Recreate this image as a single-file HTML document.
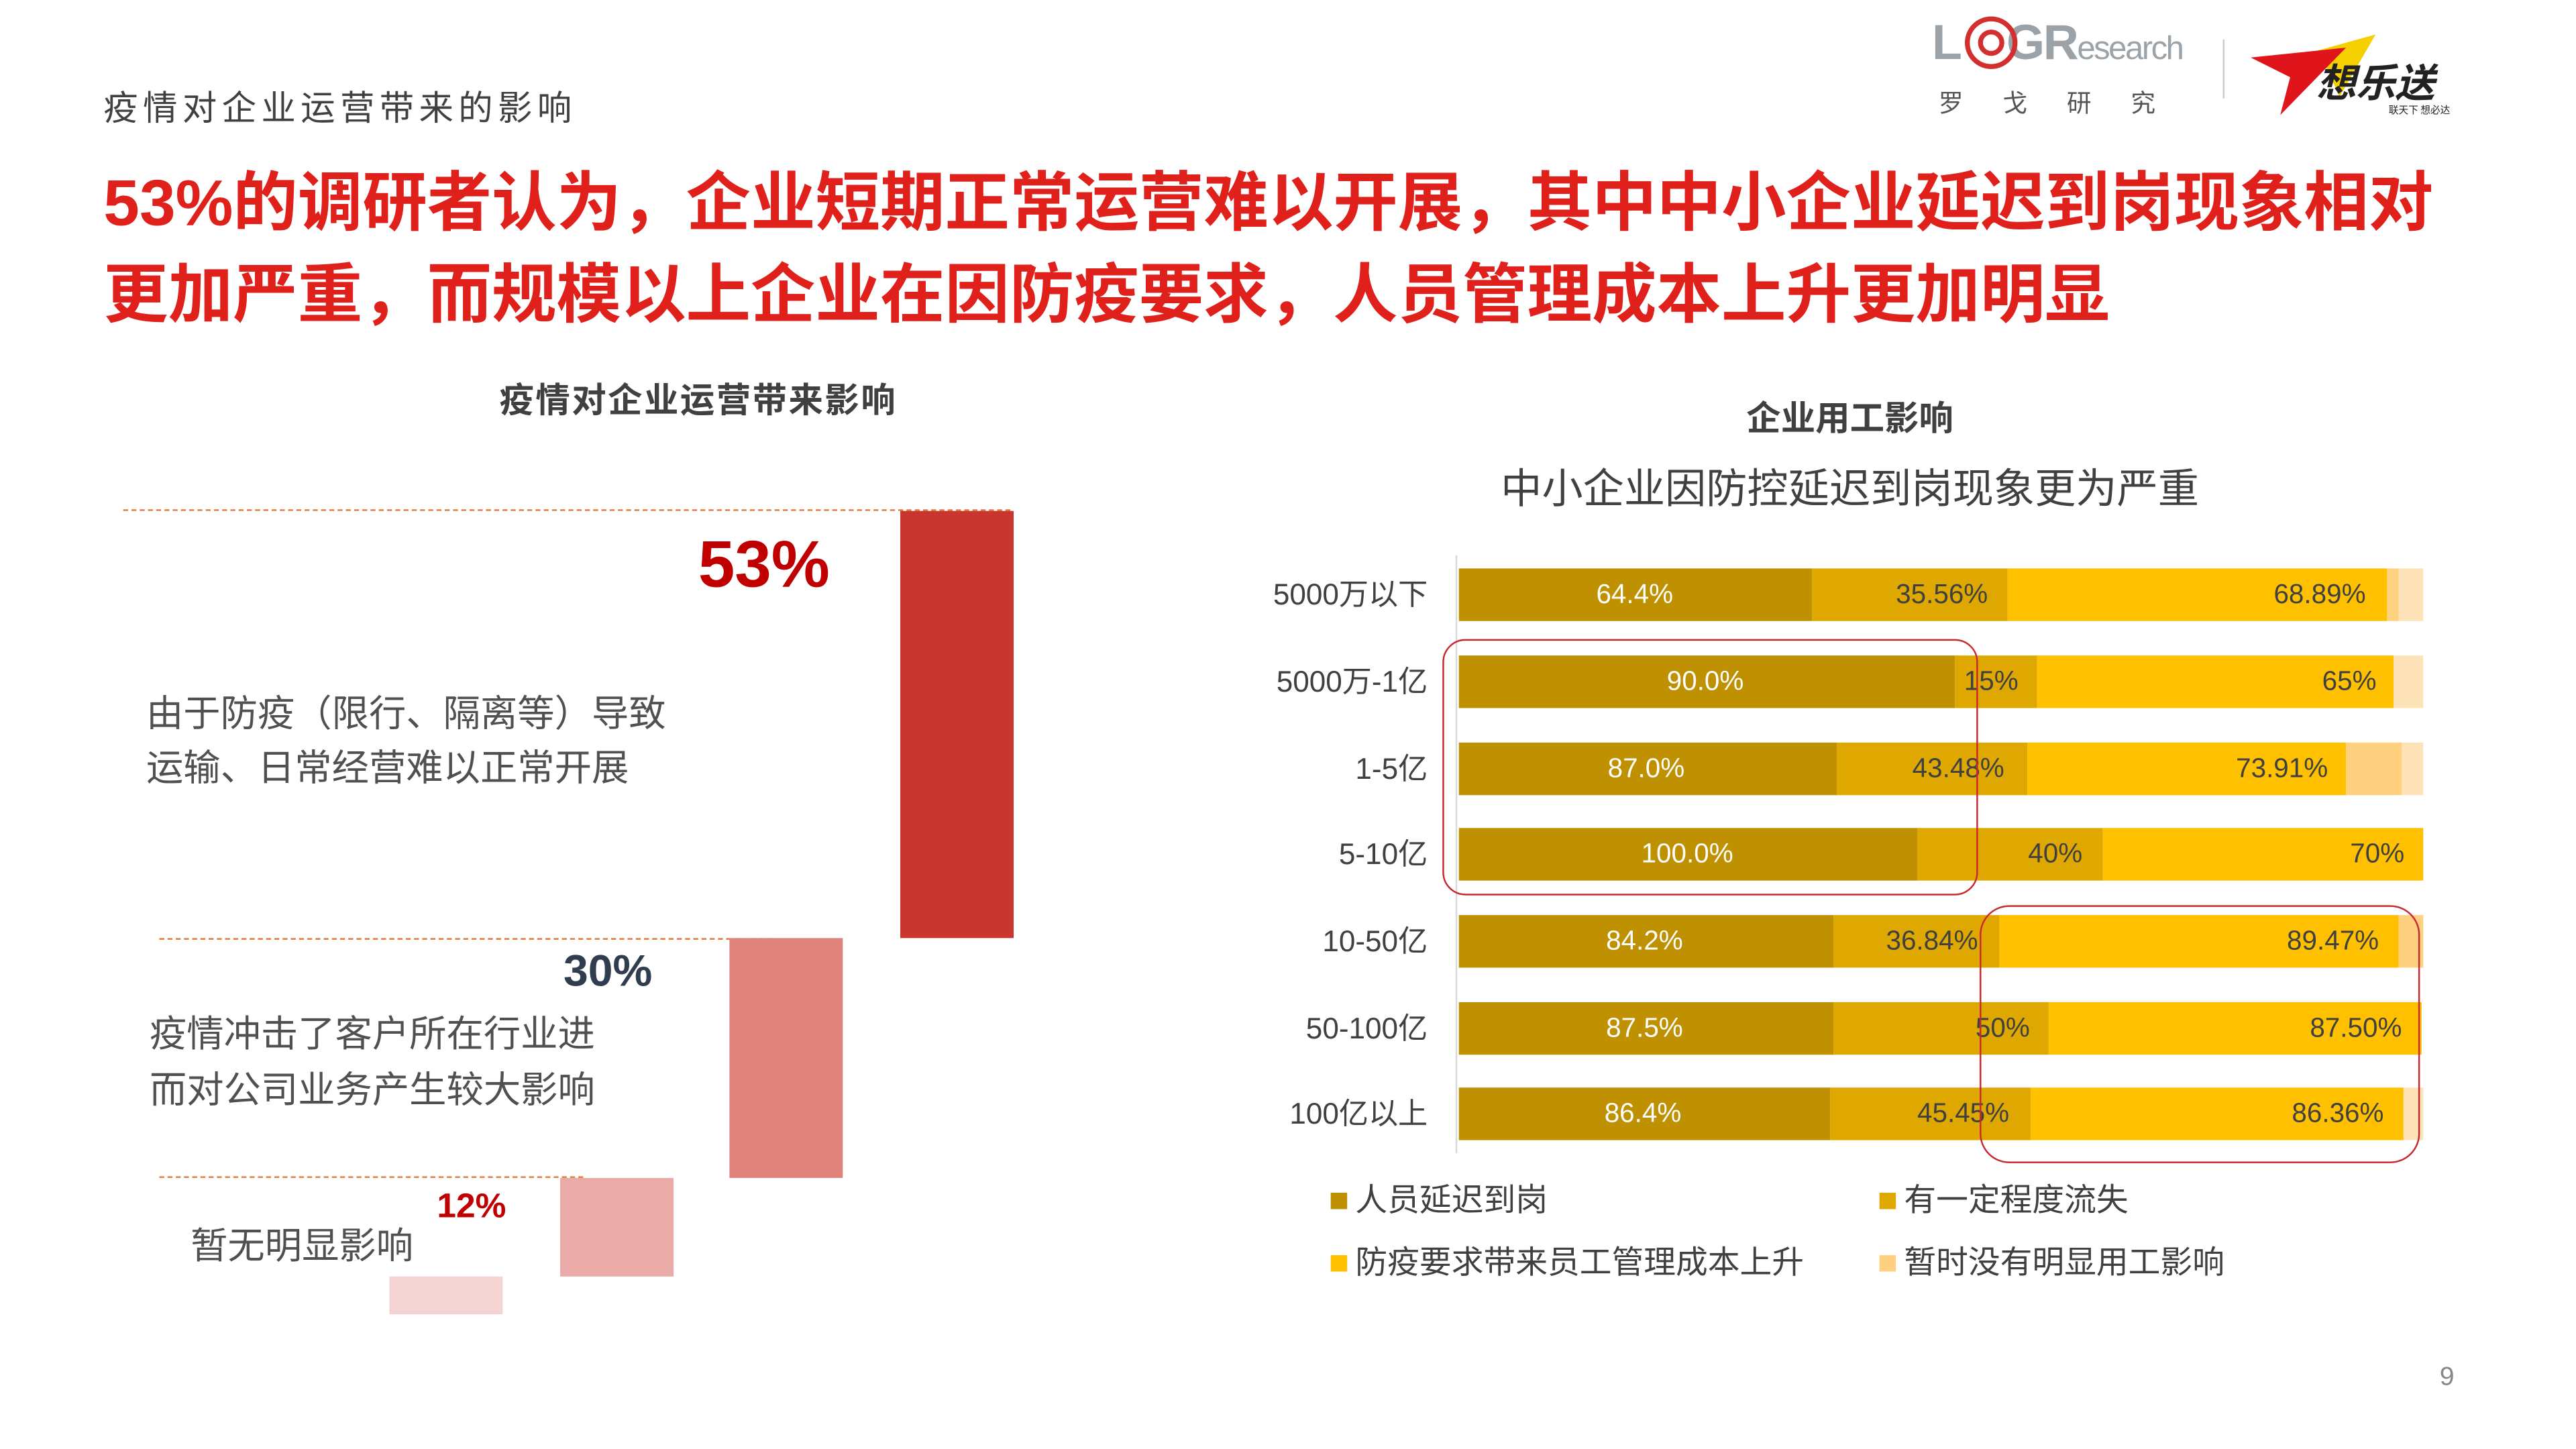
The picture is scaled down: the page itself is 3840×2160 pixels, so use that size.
<!DOCTYPE html>
<html><head><meta charset="utf-8">
<style>
html,body{margin:0;padding:0;background:#fff;}
body{width:3840px;height:2160px;overflow:hidden;position:relative;}
#w{position:absolute;left:0;top:0;width:1568px;height:882px;transform:scale(2.449);transform-origin:0 0;font-family:"Liberation Sans","Noto Sans CJK SC",sans-serif;color:#404040;}
.a{position:absolute;white-space:nowrap;}
.bar{position:absolute;}
.lbl{position:absolute;font-size:16.5px;line-height:32px;transform:translateX(-50%);white-space:nowrap;}
.cat{position:absolute;right:699px;font-size:18px;line-height:32px;color:#404040;white-space:nowrap;}
.dash{position:absolute;height:0;border-top:1px dashed #E07A3A;}
.lg{position:absolute;font-size:19.5px;line-height:22px;white-space:nowrap;}
.lg i{display:inline-block;width:10px;height:10px;margin-right:5px;vertical-align:1px;}
</style></head><body>
<div id="w">
<div class="a" style="left:63px;top:50px;font-size:21px;letter-spacing:3px;color:#404040;">疫情对企业运营带来的影响</div>
<div class="a" style="left:63px;top:96px;font-size:39.4px;font-weight:bold;color:#E0201B;line-height:56px;">53%的调研者认为，企业短期正常运营难以开展，其中中小企业延迟到岗现象相对<br>更加严重，而规模以上企业在因防疫要求，人员管理成本上升更加明显</div>

<div class="a" style="left:1176px;top:10px;font-size:30px;font-weight:bold;color:#9BA3A8;letter-spacing:-1px;">L<span style="display:inline-block;width:28px;"></span>GR<span style="font-size:20px;font-weight:normal;">esearch</span></div>
<div class="a" style="left:1196px;top:10px;width:26px;height:26px;border:3px solid #D32F2F;border-radius:50%;"></div>
<div class="a" style="left:1204px;top:18px;width:10px;height:10px;border:3px solid #D32F2F;border-radius:50%;"></div>
<div class="a" style="left:1180px;top:52px;font-size:15px;letter-spacing:24px;color:#555;">罗戈研究</div>
<div class="a" style="left:1353px;top:24px;width:1px;height:36px;background:#ccc;"></div>
<svg class="a" style="left:1368px;top:15px;" width="140" height="60"><polygon points="42,16 78,6 56,44 50,30" fill="#F5D000"/><polygon points="2,20 60,14 20,55 26,32" fill="#E0141B"/><text x="42" y="44" font-size="24" font-weight="bold" font-style="italic" fill="#222" font-family="Noto Sans CJK SC,sans-serif">想乐送</text><text x="86" y="54" font-size="6" fill="#222" font-family="Noto Sans CJK SC,sans-serif">联天下 想必达</text></svg>

<div class="a" style="left:425px;top:228px;transform:translateX(-50%);font-size:21px;font-weight:bold;color:#404040;letter-spacing:1px;">疫情对企业运营带来影响</div>
<div class="dash" style="left:75px;top:310px;width:540px;"></div>
<div class="dash" style="left:97px;top:571px;width:373px;"></div>
<div class="dash" style="left:97px;top:716px;width:258px;"></div>
<div class="bar" style="left:548px;top:311px;width:69px;height:260px;background:#C9352F;"></div>
<div class="bar" style="left:444px;top:571px;width:69px;height:146px;background:#E0837D;"></div>
<div class="bar" style="left:341px;top:717px;width:69px;height:60px;background:#EAABA8;"></div>
<div class="bar" style="left:237px;top:777px;width:69px;height:23px;background:#F4D4D3;"></div>
<div class="a" style="left:425px;top:322px;font-size:40px;font-weight:bold;color:#C00000;">53%</div>
<div class="a" style="left:343px;top:576px;font-size:27px;font-weight:bold;color:#2F3D4F;">30%</div>
<div class="a" style="left:266px;top:723px;font-size:21px;font-weight:bold;color:#C00000;">12%</div>
<div class="a" style="left:89px;top:418px;font-size:22.6px;line-height:33px;color:#505050;">由于防疫（限行、隔离等）导致<br>运输、日常经营难以正常开展</div>
<div class="a" style="left:91px;top:613px;font-size:22.6px;line-height:34px;color:#505050;">疫情冲击了客户所在行业进<br>而对公司业务产生较大影响</div>
<div class="a" style="left:116px;top:740px;font-size:22.6px;color:#505050;">暂无明显影响</div>

<div class="a" style="left:1126px;top:239px;transform:translateX(-50%);font-size:21px;font-weight:bold;color:#404040;">企业用工影响</div>
<div class="a" style="left:1126px;top:278px;transform:translateX(-50%);font-size:25px;color:#404040;">中小企业因防控延迟到岗现象更为严重</div>
<div class="bar" style="left:886px;top:338px;width:1px;height:364px;background:#D9D9D9;"></div>

<div class="cat" style="top:346px;">5000万以下</div>
<div class="bar" style="left:888px;top:346px;width:215px;height:32px;background:#BF9000"></div>
<div class="bar" style="left:1103px;top:346px;width:119px;height:32px;background:#DFA800"></div>
<div class="bar" style="left:1222px;top:346px;width:231px;height:32px;background:#FFC000"></div>
<div class="bar" style="left:1453px;top:346px;width:7px;height:32px;background:#FFD27F"></div>
<div class="bar" style="left:1460px;top:346px;width:15px;height:32px;background:#FFE3B8"></div>
<div class="lbl" style="left:995px;top:346px;color:#fff;">64.4%</div>
<div class="lbl" style="left:1182px;top:346px;">35.56%</div>
<div class="lbl" style="left:1412px;top:346px;">68.89%</div>

<div class="cat" style="top:399px;">5000万-1亿</div>
<div class="bar" style="left:888px;top:399px;width:302px;height:32px;background:#BF9000"></div>
<div class="bar" style="left:1190px;top:399px;width:50px;height:32px;background:#DFA800"></div>
<div class="bar" style="left:1240px;top:399px;width:217px;height:32px;background:#FFC000"></div>
<div class="bar" style="left:1457px;top:399px;width:18px;height:32px;background:#FFE3B8"></div>
<div class="lbl" style="left:1038px;top:399px;color:#fff;">90.0%</div>
<div class="lbl" style="left:1212px;top:399px;">15%</div>
<div class="lbl" style="left:1430px;top:399px;">65%</div>

<div class="cat" style="top:452px;">1-5亿</div>
<div class="bar" style="left:888px;top:452px;width:230px;height:32px;background:#BF9000"></div>
<div class="bar" style="left:1118px;top:452px;width:116px;height:32px;background:#DFA800"></div>
<div class="bar" style="left:1234px;top:452px;width:194px;height:32px;background:#FFC000"></div>
<div class="bar" style="left:1428px;top:452px;width:34px;height:32px;background:#FFD080"></div>
<div class="bar" style="left:1462px;top:452px;width:13px;height:32px;background:#FFE3B8"></div>
<div class="lbl" style="left:1002px;top:452px;color:#fff;">87.0%</div>
<div class="lbl" style="left:1192px;top:452px;">43.48%</div>
<div class="lbl" style="left:1389px;top:452px;">73.91%</div>

<div class="cat" style="top:504px;">5-10亿</div>
<div class="bar" style="left:888px;top:504px;width:279px;height:32px;background:#BF9000"></div>
<div class="bar" style="left:1167px;top:504px;width:113px;height:32px;background:#DFA800"></div>
<div class="bar" style="left:1280px;top:504px;width:195px;height:32px;background:#FFC000"></div>
<div class="lbl" style="left:1027px;top:504px;color:#fff;">100.0%</div>
<div class="lbl" style="left:1251px;top:504px;">40%</div>
<div class="lbl" style="left:1447px;top:504px;">70%</div>

<div class="cat" style="top:557px;">10-50亿</div>
<div class="bar" style="left:888px;top:557px;width:228px;height:32px;background:#BF9000"></div>
<div class="bar" style="left:1116px;top:557px;width:101px;height:32px;background:#DFA800"></div>
<div class="bar" style="left:1217px;top:557px;width:243px;height:32px;background:#FFC000"></div>
<div class="bar" style="left:1460px;top:557px;width:15px;height:32px;background:#FFD080"></div>
<div class="lbl" style="left:1001px;top:557px;color:#fff;">84.2%</div>
<div class="lbl" style="left:1176px;top:557px;">36.84%</div>
<div class="lbl" style="left:1420px;top:557px;">89.47%</div>

<div class="cat" style="top:610px;">50-100亿</div>
<div class="bar" style="left:888px;top:610px;width:228px;height:32px;background:#BF9000"></div>
<div class="bar" style="left:1116px;top:610px;width:131px;height:32px;background:#DFA800"></div>
<div class="bar" style="left:1247px;top:610px;width:227px;height:32px;background:#FFC000"></div>
<div class="lbl" style="left:1001px;top:610px;color:#fff;">87.5%</div>
<div class="lbl" style="left:1219px;top:610px;">50%</div>
<div class="lbl" style="left:1434px;top:610px;">87.50%</div>

<div class="cat" style="top:662px;">100亿以上</div>
<div class="bar" style="left:888px;top:662px;width:226px;height:32px;background:#BF9000"></div>
<div class="bar" style="left:1114px;top:662px;width:122px;height:32px;background:#DFA800"></div>
<div class="bar" style="left:1236px;top:662px;width:227px;height:32px;background:#FFC000"></div>
<div class="bar" style="left:1463px;top:662px;width:12px;height:32px;background:#FFE3B8"></div>
<div class="lbl" style="left:1000px;top:662px;color:#fff;">86.4%</div>
<div class="lbl" style="left:1195px;top:662px;">45.45%</div>
<div class="lbl" style="left:1423px;top:662px;">86.36%</div>

<div class="a" style="left:878px;top:389px;width:324px;height:154px;border:1.5px solid #C8282E;border-radius:14px;"></div>
<div class="a" style="left:1205px;top:551px;width:266px;height:155px;border:1.5px solid #C8282E;border-radius:18px;"></div>

<div class="lg" style="left:810px;top:720px;"><i style="background:#BF9000"></i>人员延迟到岗</div>
<div class="lg" style="left:1144px;top:720px;"><i style="background:#DFA800"></i>有一定程度流失</div>
<div class="lg" style="left:810px;top:758px;"><i style="background:#FFC000"></i>防疫要求带来员工管理成本上升</div>
<div class="lg" style="left:1144px;top:758px;"><i style="background:#FFD080"></i>暂时没有明显用工影响</div>

<div class="a" style="left:1485px;top:830px;font-size:16px;color:#888;">9</div>
</div>
</body></html>
